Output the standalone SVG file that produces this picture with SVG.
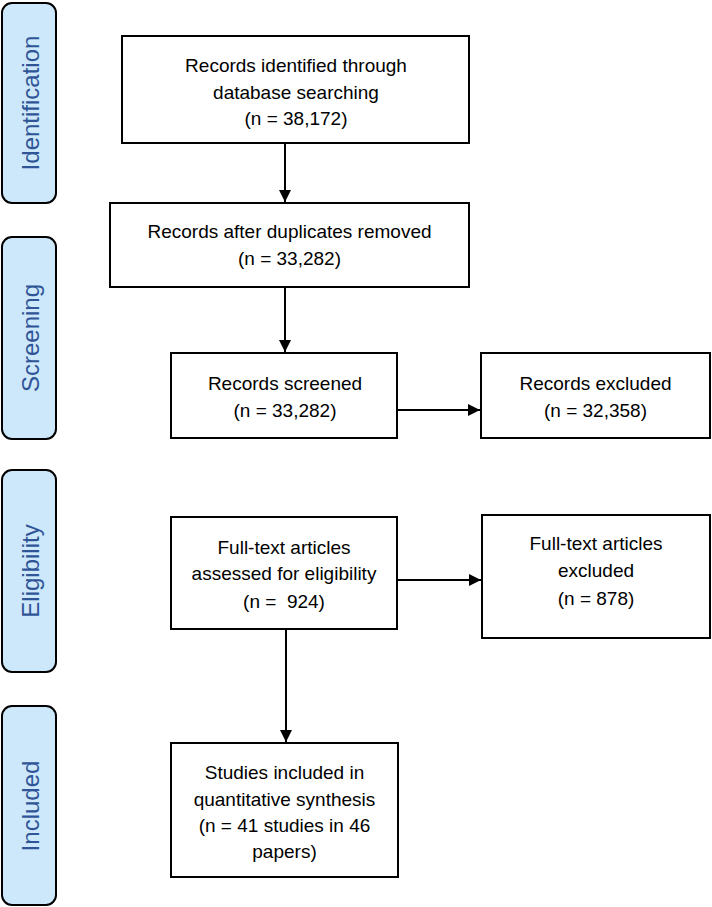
<svg xmlns="http://www.w3.org/2000/svg" width="712" height="907" viewBox="0 0 712 907">
<defs>
<marker id="arr" viewBox="0 0 12 12" refX="12" refY="6" markerWidth="12" markerHeight="12" markerUnits="userSpaceOnUse" orient="auto">
<path d="M0,0 L12,6 L0,12 z" fill="#000"/>
</marker>
<style>
.stage{fill:#CDE8FB;stroke:#000;stroke-width:2}
.stxt{font-family:"Liberation Sans",Arial,sans-serif;font-size:24px;fill:#2F5597;text-anchor:middle}
.box{fill:#fff;stroke:#000;stroke-width:2}
.t{font-family:"Liberation Sans",Arial,sans-serif;font-size:19px;fill:#000;text-anchor:middle;white-space:pre}
.conn{stroke:#000;stroke-width:2;fill:none;marker-end:url(#arr)}
</style>
</defs>
<rect width="712" height="907" fill="#fff"/>

<g id="stage-identification">
<rect class="stage" x="2" y="3" width="54" height="200" rx="10"/>
<text class="stxt" transform="translate(39,103) rotate(-90)">Identification</text>
</g>
<g id="stage-screening">
<rect class="stage" x="2" y="237" width="54" height="202" rx="10"/>
<text class="stxt" transform="translate(39,338) rotate(-90)">Screening</text>
</g>
<g id="stage-eligibility">
<rect class="stage" x="2" y="470" width="54" height="202" rx="10"/>
<text class="stxt" transform="translate(39,571) rotate(-90)">Eligibility</text>
</g>
<g id="stage-included">
<rect class="stage" x="2" y="706" width="54" height="199" rx="10"/>
<text class="stxt" transform="translate(39,806) rotate(-90)">Included</text>
</g>

<g id="identified">
<rect class="box" x="122" y="36" width="347" height="107"/>
<text class="t" x="296" y="72">Records identified through</text>
<text class="t" x="296" y="99">database searching</text>
<text class="t" x="296" y="125">(n = 38,172)</text>
</g>
<g id="deduplicated">
<rect class="box" x="110" y="203" width="359" height="84"/>
<text class="t" x="289.5" y="238">Records after duplicates removed</text>
<text class="t" x="289.5" y="265">(n = 33,282)</text>
</g>
<g id="screened">
<rect class="box" x="171" y="353" width="226" height="85"/>
<text class="t" x="285" y="390">Records screened</text>
<text class="t" x="285" y="417">(n = 33,282)</text>
</g>
<g id="excluded">
<rect class="box" x="481" y="353" width="229" height="85"/>
<text class="t" x="595.5" y="390">Records excluded</text>
<text class="t" x="595.5" y="417">(n = 32,358)</text>
</g>
<g id="fulltext">
<rect class="box" x="171" y="517" width="226" height="112"/>
<text class="t" x="284" y="554">Full-text articles</text>
<text class="t" x="284" y="580">assessed for eligibility</text>
<text class="t" x="284" y="608" xml:space="preserve">(n =  924)</text>
</g>
<g id="fulltext-excluded">
<rect class="box" x="482" y="515" width="228" height="123"/>
<text class="t" x="596" y="550">Full-text articles</text>
<text class="t" x="596" y="577">excluded</text>
<text class="t" x="596" y="605">(n = 878)</text>
</g>
<g id="included">
<rect class="box" x="171" y="743" width="227" height="134"/>
<text class="t" x="284.5" y="779">Studies included in</text>
<text class="t" x="284.5" y="806">quantitative synthesis</text>
<text class="t" x="284.5" y="832">(n = 41 studies in 46</text>
<text class="t" x="284.5" y="858">papers)</text>
</g>

<g id="connectors">
<line class="conn" x1="285" y1="143" x2="285" y2="202"/>
<line class="conn" x1="285" y1="287" x2="285" y2="352"/>
<line class="conn" x1="397" y1="410" x2="480" y2="410"/>
<line class="conn" x1="397" y1="580" x2="481" y2="580"/>
<line class="conn" x1="286" y1="629" x2="286" y2="742"/>
</g>
</svg>
